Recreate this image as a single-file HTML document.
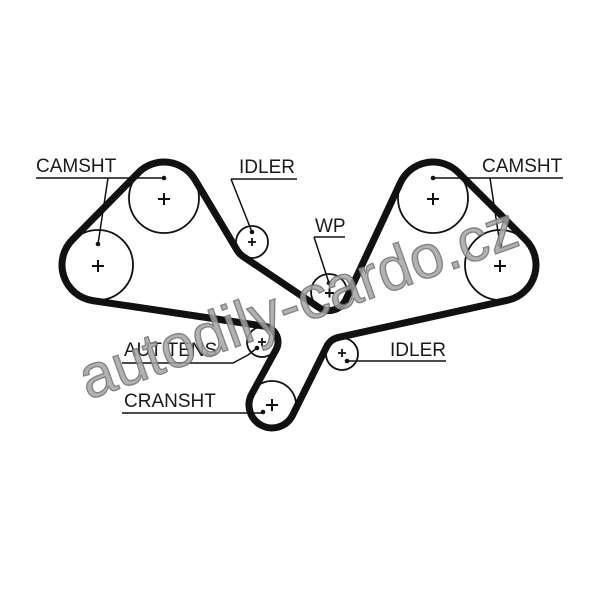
<!DOCTYPE html>
<html>
<head>
<meta charset="utf-8">
<style>
html,body{margin:0;padding:0;background:#fff;}
svg{display:block;}
text{font-family:"Liberation Sans",Arial,sans-serif;}
</style>
</head>
<body>
<svg width="600" height="589" viewBox="0 0 600 589" xmlns="http://www.w3.org/2000/svg">
<rect width="600" height="589" fill="#fff"/>

<!-- pulleys -->
<g fill="none" stroke="#111" stroke-width="1.8">
  <circle cx="164" cy="198" r="35"/>
  <circle cx="98" cy="265" r="35"/>
  <circle cx="433" cy="198" r="35"/>
  <circle cx="500" cy="265" r="35"/>
  <circle cx="252" cy="242" r="16"/>
  <circle cx="329" cy="292" r="18"/>
  <circle cx="342" cy="354" r="16"/>
  <circle cx="272" cy="405" r="24"/>
  <circle cx="262" cy="342" r="15"/>
</g>

<!-- belt -->
<path d="M 138.35 172.74 A 36 36 0 0 1 194.91 179.55 L 237.40 250.71 A 17 17 0 0 0 242.51 256.10 L 318.67 307.35 A 18.5 18.5 0 0 0 345.76 299.82 L 400.38 182.78 A 36 36 0 0 1 458.46 172.54 L 525.46 239.54 A 36 36 0 0 1 507.73 300.16 L 338.35 337.40 A 17 17 0 0 0 326.77 346.44 L 292.60 415.23 A 23 23 0 1 1 251.82 393.96 L 276.04 349.68 A 16 16 0 0 0 264.36 326.17 L 92.70 300.61 A 36 36 0 0 1 72.35 239.74 Z"
 fill="none" stroke="#111" stroke-width="7" stroke-linejoin="round"/>

<!-- plus signs -->
<g stroke="#111" stroke-width="2" fill="none">
  <path d="M158 199h12M164 193v12"/>
  <path d="M92 266h12M98 260v12"/>
  <path d="M427 199h12M433 193v12"/>
  <path d="M494 266h12M500 260v12"/>
  <path d="M266 405h12M272 399v12"/>
  <path d="M325 293h9M329.5 288.5v9"/>
</g>
<g stroke="#111" stroke-width="1.8" fill="none">
  <path d="M248 242h8M252 238v8"/>
  <path d="M338 353h8M342 349v8"/>
  <path d="M258 342h8M262 338v8"/>
</g>

<!-- leader lines -->
<g stroke="#111" stroke-width="1.5" fill="none">
  <path d="M36 178H164"/>
  <path d="M108 178L98 244"/>
  <path d="M231 179H297"/>
  <path d="M231 179L252 232"/>
  <path d="M314 237H345"/>
  <path d="M314 237L329 283"/>
  <path d="M433 178H563"/>
  <path d="M490 178L500 245"/>
  <polyline points="122,363 233,363 248,355 257,348"/>
  <path d="M122 413H263"/>
  <path d="M347 361H446"/>
</g>
<g fill="#111">
  <circle cx="164" cy="178" r="2.3"/>
  <circle cx="98" cy="244" r="2.3"/>
  <circle cx="252" cy="232" r="2.3"/>
  <circle cx="329" cy="283" r="2.3"/>
  <circle cx="433" cy="178" r="2.3"/>
  <circle cx="500" cy="245" r="2.3"/>
  <circle cx="257" cy="348" r="2.3"/>
  <circle cx="263" cy="412" r="2.3"/>
  <circle cx="347" cy="361" r="2.3"/>
</g>

<!-- labels -->
<g fill="#1a1a1a" font-size="19">
  <text x="36" y="172">CAMSHT</text>
  <text x="239" y="173">IDLER</text>
  <text x="315" y="232">WP</text>
  <text x="482" y="172">CAMSHT</text>
  <text x="124" y="356">AUT TENS</text>
  <text x="124" y="407">CRANSHT</text>
  <text x="390" y="356">IDLER</text>
</g>

<!-- watermark -->
<text x="88" y="400" font-size="61" transform="rotate(-19.7 88 400)" fill="#a3a3a3" fill-opacity="0.85" stroke="#6e6e6e" stroke-width="1.3" stroke-opacity="0.8">autodily-cardo.cz</text>
</svg>
</body>
</html>
